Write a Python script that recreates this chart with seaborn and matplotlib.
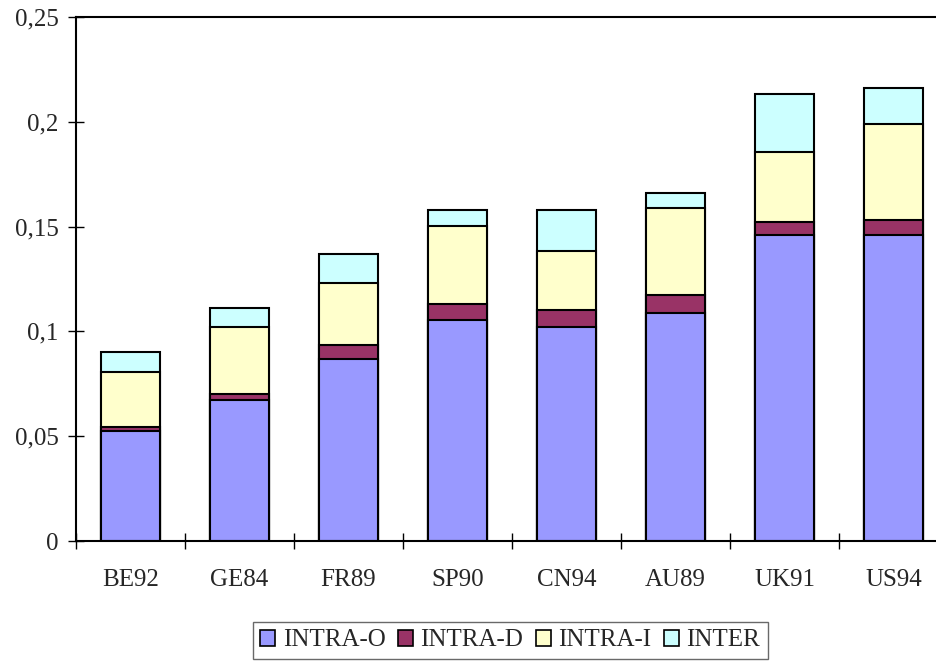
import matplotlib
matplotlib.use("Agg")
import matplotlib.pyplot as plt
import seaborn as sns
import pandas as pd
import numpy as np
from matplotlib.patches import Patch
from matplotlib.ticker import FuncFormatter

categories = ["BE92", "GE84", "FR89", "SP90", "CN94", "AU89", "UK91", "US94"]
series = ["INTRA-O", "INTRA-D", "INTRA-I", "INTER"]
intra_o = [0.0525, 0.0671, 0.0868, 0.1054, 0.1022, 0.1090, 0.1462, 0.1462]
intra_d = [0.0020, 0.0029, 0.0069, 0.0077, 0.0078, 0.0085, 0.0058, 0.0070]
intra_i = [0.0261, 0.0320, 0.0293, 0.0372, 0.0285, 0.0415, 0.0334, 0.0456]
inter   = [0.0096, 0.0090, 0.0140, 0.0077, 0.0195, 0.0070, 0.0277, 0.0172]
colors = ["#9999FF", "#993366", "#FFFFCC", "#CCFFFF"]

sns.set_style("white")
plt.rcParams["font.family"] = ["Liberation Serif", "DejaVu Serif"]

values = np.array([intra_o, intra_d, intra_i, inter])
cum = np.cumsum(values, axis=0)

fig = plt.figure(figsize=(9.36, 6.66), dpi=100)
ax = fig.add_axes([76/936, 1 - 541/666, 872/936, 524/666])

for i in range(len(series) - 1, -1, -1):
    df = pd.DataFrame({"cat": categories, "val": cum[i]})
    sns.barplot(data=df, x="cat", y="val", order=categories, color=colors[i],
                saturation=1, width=0.55, edgecolor="black", linewidth=1.5,
                ax=ax)

ax.set_xlim(-0.5, len(categories) - 0.5)
ax.set_ylim(0, 0.25)
ax.set_xlabel("")
ax.set_ylabel("")
ax.set_yticks([0, 0.05, 0.1, 0.15, 0.2, 0.25])
ax.yaxis.set_major_formatter(FuncFormatter(
    lambda v, p: "0" if v == 0 else ("%g" % v).replace(".", ",")))
ax.set_xticks(np.arange(len(categories)))
ax.set_xticklabels(categories)
ax.set_xticks(np.arange(-0.5, len(categories)), minor=True)
ax.tick_params(axis="x", which="major", length=0, pad=20, labelsize=18)
ax.tick_params(axis="x", which="minor", length=11, width=1, direction="inout",
               bottom=True, color="black")
ax.tick_params(axis="y", which="major", length=11, width=1, direction="inout",
               left=True, pad=7, labelsize=18, color="black")
for s in ax.spines.values():
    s.set_color("black")
    s.set_linewidth(1.5)

handles = [Patch(facecolor=c, edgecolor="black", linewidth=1.2) for c in colors]
fig.legend(handles, series, loc="upper center", bbox_to_anchor=(0.545, 1 - 622/666),
           ncol=4, fontsize=18, frameon=True, fancybox=False, edgecolor="#444444",
           handlelength=0.6, handleheight=0.6, handletextpad=0.3,
           columnspacing=0.5, borderpad=0.3, borderaxespad=0)

fig.savefig("out.png", dpi=100)
